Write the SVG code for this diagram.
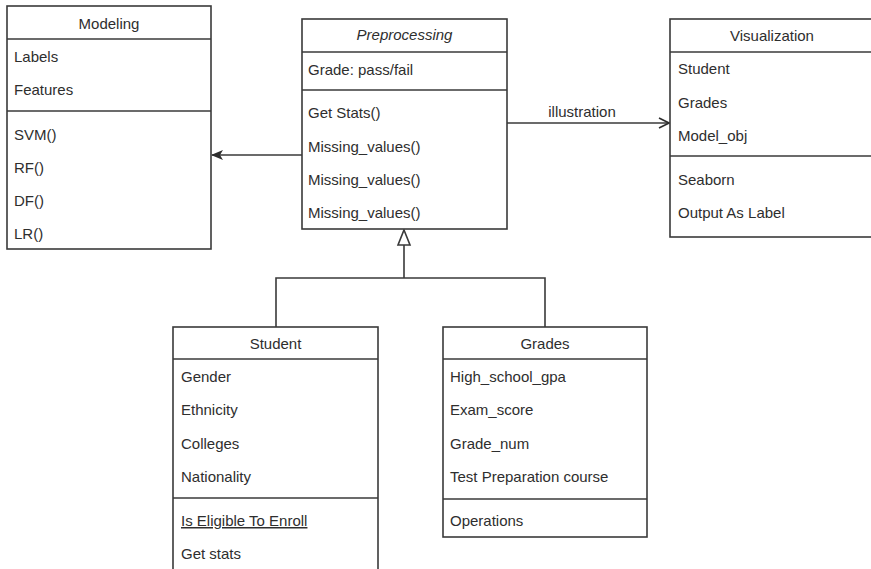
<svg xmlns="http://www.w3.org/2000/svg" width="871" height="569" viewBox="0 0 871 569">
  <style>
    .box { fill: #ffffff; stroke: #3a3a3a; stroke-width: 1.6; }
    .sep { stroke: #3a3a3a; stroke-width: 1.6; fill: none; }
    .edge { stroke: #3a3a3a; stroke-width: 1.6; fill: none; }
    text { font-family: "Liberation Sans", Arial, Helvetica, sans-serif; font-size: 15px; fill: #2e2e2e; }
    .title { text-anchor: middle; }
    .italic { font-style: italic; }
  </style>
  <defs>
    <marker id="filled" viewBox="0 0 12 10" refX="11" refY="5" markerWidth="12" markerHeight="10" markerUnits="userSpaceOnUse" orient="auto">
      <path d="M0,0 L12,5 L0,10 L3,5 Z" fill="#2e2e2e"/>
    </marker>
    <marker id="open" viewBox="0 0 12 12" refX="11" refY="6" markerWidth="12" markerHeight="12" markerUnits="userSpaceOnUse" orient="auto">
      <path d="M1,1 L11,6 L1,11" fill="none" stroke="#2e2e2e" stroke-width="1.6"/>
    </marker>
  </defs>

  <rect width="871" height="569" fill="#ffffff"/>

  <!-- connectors -->
  <g id="connectors">
    <line class="edge" x1="302" y1="155" x2="212" y2="155" marker-end="url(#filled)"/>
    <line class="edge" x1="507" y1="123" x2="669" y2="123" marker-end="url(#open)"/>
    <text x="582" y="117" class="title">illustration</text>
    <!-- generalization -->
    <path class="edge" d="M404,245 L404,278 M276,327 L276,278 L545,278 L545,327"/>
    <path d="M404,230 L410,245 L398,245 Z" fill="#ffffff" stroke="#3a3a3a" stroke-width="1.6" stroke-linejoin="miter"/>
  </g>

  <!-- Modeling -->
  <g id="modeling">
    <rect class="box" x="7" y="6" width="204" height="243"/>
    <line class="sep" x1="7" y1="39" x2="211" y2="39"/>
    <line class="sep" x1="7" y1="111" x2="211" y2="111"/>
    <text x="109" y="29" class="title">Modeling</text>
    <text x="14" y="62">Labels</text>
    <text x="14" y="95">Features</text>
    <text x="14" y="140">SVM()</text>
    <text x="14" y="173">RF()</text>
    <text x="14" y="206">DF()</text>
    <text x="14" y="239">LR()</text>
  </g>

  <!-- Preprocessing -->
  <g id="preprocessing">
    <rect class="box" x="302" y="19" width="205" height="210"/>
    <line class="sep" x1="302" y1="52" x2="507" y2="52"/>
    <line class="sep" x1="302" y1="90" x2="507" y2="90"/>
    <text x="404.5" y="40" class="title italic">Preprocessing</text>
    <text x="308" y="75">Grade: pass/fail</text>
    <text x="308" y="118">Get Stats()</text>
    <text x="308" y="152">Missing_values()</text>
    <text x="308" y="185">Missing_values()</text>
    <text x="308" y="218">Missing_values()</text>
  </g>

  <!-- Visualization -->
  <g id="visualization">
    <rect class="box" x="670" y="19" width="204" height="218"/>
    <line class="sep" x1="670" y1="52" x2="874" y2="52"/>
    <line class="sep" x1="670" y1="156" x2="874" y2="156"/>
    <text x="772" y="41" class="title">Visualization</text>
    <text x="678" y="74">Student</text>
    <text x="678" y="108">Grades</text>
    <text x="678" y="141">Model_obj</text>
    <text x="678" y="185">Seaborn</text>
    <text x="678" y="218">Output As Label</text>
  </g>

  <!-- Student -->
  <g id="student">
    <rect class="box" x="173" y="327" width="205" height="260"/>
    <line class="sep" x1="173" y1="359" x2="378" y2="359"/>
    <line class="sep" x1="173" y1="498" x2="378" y2="498"/>
    <text x="275.5" y="349" class="title">Student</text>
    <text x="181" y="382">Gender</text>
    <text x="181" y="415">Ethnicity</text>
    <text x="181" y="449">Colleges</text>
    <text x="181" y="482">Nationality</text>
    <text x="181" y="526" text-decoration="underline">Is Eligible To Enroll</text>
    <text x="181" y="559">Get stats</text>
  </g>

  <!-- Grades -->
  <g id="grades">
    <rect class="box" x="443" y="327" width="204" height="210"/>
    <line class="sep" x1="443" y1="359" x2="647" y2="359"/>
    <line class="sep" x1="443" y1="499" x2="647" y2="499"/>
    <text x="545" y="349" class="title">Grades</text>
    <text x="450" y="382">High_school_gpa</text>
    <text x="450" y="415">Exam_score</text>
    <text x="450" y="449">Grade_num</text>
    <text x="450" y="482">Test Preparation course</text>
    <text x="450" y="526">Operations</text>
  </g>
</svg>
